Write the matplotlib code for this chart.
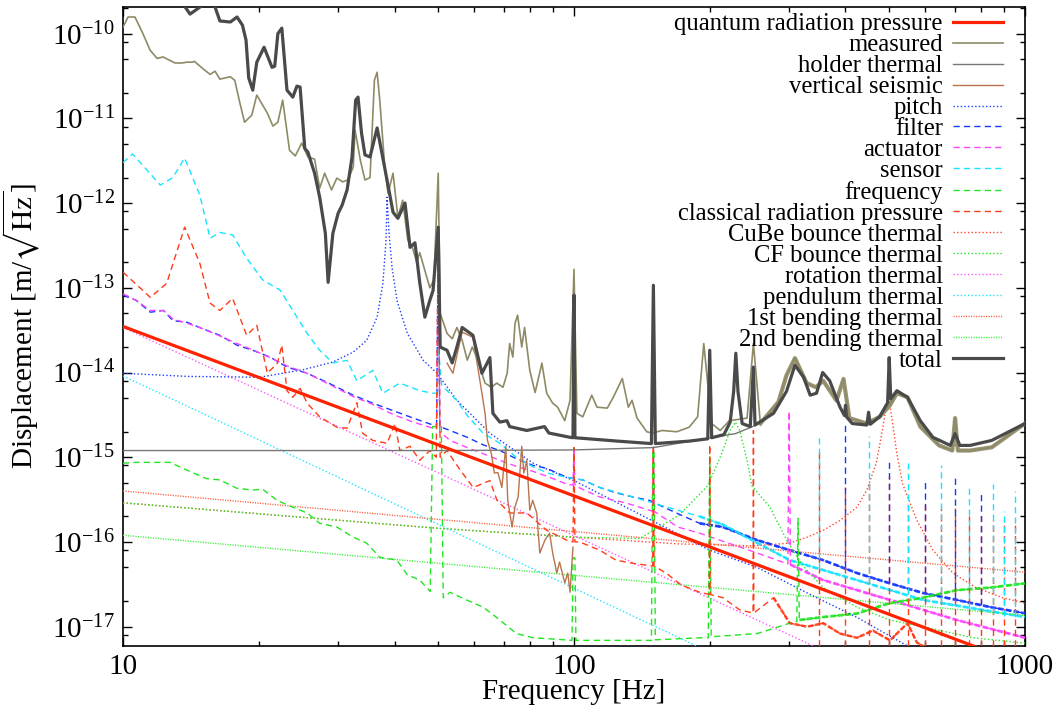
import numpy as np
import matplotlib.pyplot as plt
from matplotlib.ticker import LogLocator, NullFormatter, FixedLocator, FixedFormatter, LogFormatterSciNotation

plt.rcParams['font.family'] = ['Liberation Serif', 'DejaVu Serif']
plt.rcParams['mathtext.fontset'] = 'stix'
plt.rcParams['axes.unicode_minus'] = False

# ---- data: (frequency [Hz], displacement [m/rtHz]) ----
quantum_rp = [(10, 3.5e-14), (1000, 3.5e-18)]

measured = [(10, 1.19e-10), (10.26, 1.57e-10), (10.63, 1.57e-10), (11.07, 1.0e-10), (11.48, 6.4e-11),
            (11.9, 5.1e-11), (12.27, 5.3e-11), (13.04, 4.5e-11), (13.5, 4.5e-11), (13.86, 4.6e-11),
            (14.2, 4.6e-11), (14.4, 4.7e-11), (15.0, 3.9e-11), (15.6, 3.3e-11), (16.0, 3.6e-11),
            (16.4, 2.9e-11), (17.3, 3.1e-11), (17.7, 2.8e-11), (18.1, 1.64e-11), (18.6, 9.0e-12),
            (19.3, 1.09e-11), (19.8, 1.88e-11), (20.9, 1.15e-11), (21.5, 8.1e-12), (22.05, 9.0e-12),
            (22.6, 1.64e-11), (23.4, 4.2e-12), (24.1, 3.6e-12), (24.9, 5.1e-12), (25.7, 3.5e-12),
            (26.6, 3.3e-12), (27.3, 1.5e-12), (28.0, 2.25e-12), (29.0, 1.43e-12), (29.8, 1.97e-12),
            (30.7, 1.78e-12), (31.5, 1.87e-12), (32.4, 2.65e-12), (32.7, 7.3e-12), (33.6, 3.2e-12),
            (34.4, 1.87e-12), (35.3, 2.0e-12), (36.1, 2.83e-11), (36.6, 3.5e-11), (37.1, 1.64e-11),
            (38.1, 2.45e-12), (38.7, 1.3e-12), (39.7, 2.25e-12), (40.7, 6.8e-13), (41.7, 1.08e-12),
            (42.8, 3.67e-13), (43.9, 2.9e-13), (44.8, 2.0e-13), (45.5, 2.6e-13), (46.7, 1.6e-13),
            (47.9, 1.0e-13), (48.9, 1.24e-13), (50.0, 2.25e-12), (50.5, 5.0e-14), (52.3, 2.9e-14),
            (53.7, 2.5e-14), (55.0, 3.4e-14), (56.5, 2.4e-14), (58.0, 1.4e-14), (59.5, 2.0e-14),
            (60.3, 1.7e-14), (61.9, 1.16e-14), (63.5, 7.5e-15), (65.6, 6.7e-15), (67.4, 7.5e-15),
            (69.6, 6.7e-15), (71.1, 9.8e-15), (72.0, 2.2e-14), (73.2, 1.52e-14), (74.0, 3.8e-14),
            (75.0, 4.75e-14), (76.6, 2.0e-14), (77.7, 3.4e-14), (79.8, 1.06e-14), (82.0, 5.8e-15),
            (84.9, 1.29e-14), (87.0, 5.7e-15), (89.7, 4.35e-15), (92.0, 3.9e-15), (95.4, 2.7e-15),
            (98.0, 4.7e-15), (100, 1.65e-13), (101.5, 3.3e-15), (104.6, 3.0e-15), (109.5, 5.4e-15),
            (112.5, 3.9e-15), (118.5, 3.8e-15), (122, 5.0e-15), (128, 8.5e-15), (132, 3.9e-15),
            (134.5, 4.7e-15), (138, 2.9e-15), (145, 2.0e-15), (149, 1.93e-15), (157, 2.07e-15),
            (169, 2.0e-15), (180, 2.26e-15), (188, 3.0e-15), (194, 2.2e-14), (202, 2.5e-15),
            (211, 2.07e-15), (221, 2.7e-15), (242, 2.9e-15), (250, 2.2e-14), (259, 2.5e-15),
            (284, 4.5e-15), (296, 9.3e-15), (309, 1.48e-14), (328, 7.5e-15), (344, 6.7e-15),
            (357, 8.0e-15), (382, 4.66e-15), (396, 8.4e-15), (408, 2.9e-15), (446, 2.5e-15),
            (476, 3.0e-15), (502, 4.1e-15), (520, 5.7e-15), (549, 5.1e-15), (586, 2.3e-15),
            (645, 1.38e-15), (690, 1.2e-15), (700, 2.9e-15), (710, 1.2e-15), (756, 1.2e-15),
            (844, 1.31e-15), (1000, 2.5e-15)]

holder_thermal = [(10, 1.2e-15), (50, 1.2e-15), (100, 1.22e-15), (150, 1.3e-15), (197, 1.67e-15),
                  (228, 1.9e-15), (249, 2.3e-15), (277, 3.3e-15), (296, 6.0e-15), (309, 1.22e-14),
                  (323, 8.8e-15), (334, 5.4e-15), (345, 5.7e-15), (356, 1.0e-14), (369, 8.0e-15),
                  (389, 3.9e-15), (414, 2.5e-15), (446, 2.4e-15), (476, 3.0e-15), (500, 4.4e-15),
                  (520, 6.1e-15), (549, 5.1e-15), (586, 2.7e-15), (625, 1.72e-15), (683, 1.38e-15),
                  (756, 1.38e-15), (844, 1.58e-15), (1000, 2.5e-15)]

vertical_seismic = [(52.3, 1.29e-14), (53.9, 9.8e-15), (56.5, 3.0e-14), (59.7, 2.6e-14), (62.5, 5.7e-15),
                    (63.5, 3.3e-15), (64.3, 1.58e-15), (65.6, 1.1e-15), (66.6, 6.5e-16), (67.8, 6.6e-16),
                    (69.2, 4.4e-16), (70.6, 1.35e-15), (71.3, 3.1e-16), (72.9, 1.5e-16), (74.0, 2.6e-16),
                    (75.2, 3.4e-16), (76.6, 1.35e-15), (77.4, 6.5e-16), (78.6, 9.2e-16), (79.8, 2.37e-16),
                    (81.0, 3.1e-16), (82.7, 2.2e-16), (84.0, 7.4e-17), (86.2, 1.05e-16), (88.3, 1.27e-16),
                    (89.7, 7.4e-17), (91.6, 4.3e-17), (92.9, 5.8e-17), (95.4, 3.3e-17), (96.9, 4.3e-17),
                    (98.0, 2.55e-17), (99.5, 8.7e-17)]

pitch = [(10, 9.8e-15), (13.9, 9.0e-15), (20.1, 8.8e-15), (25.1, 1.08e-14), (29.2, 1.33e-14),
         (32.4, 1.74e-14), (34.7, 2.4e-14), (36.6, 4.5e-14), (37.7, 1.13e-13), (38.3, 3.65e-13),
         (38.5, 1.17e-12), (38.9, 4.4e-13), (39.5, 1.75e-13), (40.5, 7.1e-14), (42.7, 2.9e-14),
         (46.3, 1.4e-14), (49.7, 9.8e-15), (55.0, 4.7e-15), (65.1, 1.92e-15), (81.2, 8.5e-16),
         (101.5, 5.1e-16), (200, 8.0e-17), (255, 5.0e-17), (329, 2.5e-17), (424, 1.29e-17),
         (535, 6.4e-18), (600, 4.5e-18)]

filter_n = [(10, 8.2e-14), (10.7, 7.1e-14), (11.5, 5.15e-14), (12.3, 5.4e-14), (12.9, 4.1e-14),
            (13.9, 3.9e-14), (15.0, 3.3e-14), (16.4, 2.75e-14), (17.9, 2.1e-14), (19.4, 1.83e-14),
            (21.2, 1.52e-14), (23.1, 1.16e-14), (25.6, 9.8e-15), (28.3, 7.7e-15), (32.4, 5.4e-15),
            (35.8, 4.35e-15), (39.7, 3.55e-15), (44.0, 2.9e-15), (48.7, 2.4e-15), (49.6, 2.4e-15),
            (50.0, 4.8e-13), (50.4, 2.3e-15), (53.1, 2.07e-15), (58.0, 1.72e-15), (62.9, 1.4e-15),
            (68.5, 1.2e-15), (74.5, 9.6e-16), (81.2, 8.0e-16), (87.0, 7.4e-16), (96.4, 5.8e-16),
            (104.6, 5.4e-16), (114, 4.4e-16), (124, 3.8e-16), (135, 3.4e-16), (147, 3.1e-16),
            (160, 2.5e-16), (173, 2.07e-16), (190, 1.66e-16), (214, 1.5e-16), (255, 1.05e-16),
            (301, 8.0e-17), (357, 6.1e-17), (424, 4.3e-17), (502, 3.25e-17), (594, 2.5e-17),
            (706, 2.07e-17), (840, 1.7e-17), (1000, 1.44e-17)]

actuator = [(10, 8.5e-14), (10.7, 7.1e-14), (11.5, 5.4e-14), (12.3, 5.4e-14), (12.9, 4.3e-14),
            (13.9, 3.8e-14), (15.0, 3.3e-14), (16.4, 2.7e-14), (17.9, 2.2e-14), (19.4, 1.85e-14),
            (21.2, 1.5e-14), (23.1, 1.2e-14), (25.6, 9.8e-15), (28.3, 7.5e-15), (32.4, 5.2e-15),
            (35.8, 4.2e-15), (39.7, 3.2e-15), (44.0, 2.6e-15), (48.7, 2.2e-15), (49.6, 2.2e-15),
            (50.0, 4.2e-13), (50.4, 2.0e-15), (53.1, 1.58e-15), (58.0, 1.3e-15), (62.9, 1.1e-15),
            (68.5, 9.2e-16), (74.5, 7.8e-16), (81.2, 6.8e-16), (88.3, 5.8e-16), (96.4, 4.8e-16),
            (99.5, 4.7e-16), (100, 1.3e-15), (100.5, 4.6e-16), (114, 3.4e-16), (130, 2.9e-16),
            (147, 2.37e-16), (149.5, 2.3e-16), (150, 1.2e-15), (150.5, 2.3e-16), (170, 1.5e-16),
            (190, 1.27e-16), (255, 7.4e-17), (298, 5.5e-17), (300, 3.5e-15), (302, 5.4e-17),
            (357, 3.55e-17), (502, 2.07e-17), (706, 1.2e-17), (1000, 7.4e-18)]

sensor = [(10, 3.0e-12), (10.5, 3.8e-12), (12.1, 1.63e-12), (12.9, 2.0e-12), (13.7, 3.4e-12),
          (14.8, 1.24e-12), (15.6, 3.85e-13), (16.4, 4.5e-13), (17.5, 4.2e-13), (18.8, 2.24e-13),
          (20.4, 1.24e-13), (22.3, 9.4e-14), (23.8, 5.4e-14), (25.6, 2.9e-14), (27.3, 1.83e-14),
          (29.2, 1.3e-14), (31.4, 1.39e-14), (33.0, 8.0e-15), (35.8, 1.06e-14), (37.7, 5.7e-15),
          (41.1, 7.5e-15), (45.5, 6.1e-15), (48.7, 5.7e-15), (49.6, 5.7e-15), (50.0, 2.0e-14),
          (50.9, 7.1e-15), (55.0, 4.66e-15), (58.0, 3.1e-15), (62.9, 1.92e-15), (68.5, 1.46e-15),
          (74.5, 1.0e-15), (81.2, 7.7e-16), (88.3, 6.4e-16), (96.4, 5.8e-16), (104.6, 5.4e-16),
          (114, 4.4e-16), (135, 3.4e-16), (160, 2.6e-16), (190, 2.0e-16), (214, 1.6e-16),
          (301, 6.1e-17), (424, 3.55e-17), (594, 2.07e-17), (1000, 1.3e-17)]

frequency = [(10, 8.5e-16), (10.7, 8.7e-16), (11.5, 8.7e-16), (12.7, 8.7e-16), (13.9, 7.0e-16),
             (15.3, 5.6e-16), (16.4, 5.4e-16), (17.9, 4.3e-16), (19.4, 4.1e-16), (20.4, 4.2e-16),
             (21.95, 3.1e-16), (23.8, 2.57e-16), (25.6, 2.2e-16), (27.3, 1.66e-16), (29.8, 1.5e-16),
             (32.4, 1.14e-16), (34.7, 9.7e-17), (37.1, 6.6e-17), (40.5, 6.1e-17), (42.7, 4.1e-17),
             (45.5, 3.55e-17), (48.0, 2.6e-17), (48.6, 2.3e-15), (50.8, 2.3e-15), (51.3, 2.2e-17),
             (53.1, 2.55e-17), (58.0, 2.05e-17), (62.9, 1.7e-17), (68.5, 1.2e-17), (74.5, 8.3e-18),
             (81.2, 7.4e-18), (88.3, 7.2e-18), (99.0, 6.9e-18), (99.5, 6.5e-17), (100.5, 6.5e-17),
             (101, 6.9e-18), (114, 6.9e-18), (148.5, 6.9e-18), (149.5, 1.2e-15), (150.5, 1.2e-15),
             (151.5, 7.0e-18), (190, 7.4e-18), (198.5, 7.4e-18), (200, 1.0e-15), (201.5, 7.6e-18),
             (255, 8.3e-18), (301, 1.1e-17), (312, 1.15e-17), (314, 1.9e-16), (316, 1.2e-17),
             (357, 1.3e-17), (424, 1.43e-17), (502, 1.9e-17), (594, 2.2e-17), (706, 2.7e-17),
             (840, 2.9e-17), (1000, 3.25e-17)]

classical_rp = [(10, 1.53e-13), (11.5, 7.7e-14), (12.5, 1.13e-13), (13.7, 5.2e-13), (14.8, 1.95e-13),
                (15.4, 8.6e-14), (15.6, 6.6e-14), (16.4, 5.4e-14), (17.5, 7.5e-14), (18.8, 2.75e-14),
                (19.8, 3.6e-14), (20.9, 9.8e-15), (22.0, 1.29e-14), (22.5, 2.1e-14), (23.1, 6.1e-15),
                (23.8, 5.1e-15), (24.7, 6.5e-15), (25.6, 4.35e-15), (27.3, 3.0e-15), (29.8, 2.26e-15),
                (31.4, 2.2e-15), (33.0, 4.4e-15), (34.0, 1.92e-15), (35.8, 1.58e-15), (38.5, 1.46e-15),
                (40.1, 2.5e-15), (41.1, 1.2e-15), (43.3, 1.35e-15), (45.5, 9.2e-16), (47.9, 1.2e-15),
                (49.5, 1.0e-15), (50.0, 4.5e-13), (50.5, 1.0e-15), (52.3, 1.2e-15), (56.0, 7.0e-16),
                (59.8, 4.4e-16), (65.1, 5.3e-16), (67.5, 3.1e-16), (72.0, 2.2e-16), (78.6, 2.2e-16),
                (87.0, 1.37e-16), (96.4, 1.05e-16), (99.5, 1.0e-16), (100, 1.3e-15), (100.5, 1.0e-16),
                (103, 1.0e-16), (114, 8.0e-17), (124, 6.1e-17), (135, 5.6e-17), (149.5, 5.2e-17),
                (150, 1.4e-15), (150.5, 5.2e-17), (160, 4.3e-17), (173, 3.1e-17), (190, 2.55e-17),
                (199.5, 2.4e-17), (200, 1.4e-15), (200.5, 2.4e-17), (214, 2.2e-17), (233, 1.58e-17),
                (249.5, 1.45e-17), (250, 2.07e-15), (250.5, 1.45e-17), (277, 2.2e-17), (301, 1.1e-17),
                (329, 1.0e-17), (357, 1.1e-17), (389, 8.3e-18), (424, 7.4e-18), (460, 9.0e-18),
                (502, 6.9e-18), (549, 1.1e-17), (576, 6.5e-18), (650, 4.5e-18)]

cube_bounce = [(10, 2.9e-16), (50, 1.45e-16), (100, 1.14e-16), (170, 9.5e-17), (250, 9.0e-17),
               (301, 9.7e-17), (329, 1.14e-16), (357, 1.37e-16), (389, 1.8e-16), (424, 2.57e-16),
               (446, 4.1e-16), (468, 8.5e-16), (483, 2.07e-15), (497, 5.5e-15), (508, 2.7e-15),
               (520, 1.1e-15), (535, 4.9e-16), (576, 1.8e-16), (625, 8.0e-17), (692, 4.3e-17),
               (778, 2.9e-17), (892, 2.2e-17), (1000, 1.9e-17)]

cf_bounce = [(10, 2.9e-16), (50, 1.45e-16), (100, 1.14e-16), (140, 1.1e-16), (171, 2.07e-16),
             (198, 4.6e-16), (211, 1.0e-15), (222, 2.07e-15), (228, 2.6e-15), (233, 2.07e-15),
             (242, 9.2e-16), (248, 4.6e-16), (272, 2.57e-16), (296, 1.06e-16), (323, 5.1e-17),
             (357, 2.9e-17), (424, 1.7e-17), (502, 1.2e-17), (594, 1.0e-17), (767, 7.4e-18),
             (1000, 6.4e-18)]

rotation = [(10, 3.4e-14), (350, 5.5e-18)]
pendulum = [(10, 9.1e-15), (190, 5.7e-18)]
bending1 = [(10, 4.0e-16), (1000, 4.4e-17)]
bending2 = [(10, 1.2e-16), (1000, 1.36e-17)]

total = [(13.7, 2.1e-10), (14.08, 1.7e-10), (14.82, 2.06e-10), (15.4, 2.4e-10), (16.0, 2.06e-10),
         (16.4, 1.41e-10), (17.3, 1.37e-10), (17.9, 1.57e-10), (18.4, 1.26e-10), (18.74, 8.4e-11),
         (19.0, 3.0e-11), (19.4, 2.15e-11), (19.8, 4.6e-11), (20.55, 6.9e-11), (21.4, 4.0e-11),
         (21.7, 4.13e-11), (22.05, 1.0e-10), (22.5, 1.16e-10), (23.1, 2.15e-11), (23.8, 1.78e-11),
         (24.3, 2.4e-11), (24.7, 2.34e-11), (25.3, 4.4e-12), (25.7, 4.0e-12), (26.6, 2.25e-12),
         (27.3, 1.17e-12), (28.1, 4.4e-13), (28.5, 1.16e-13), (29.2, 4.4e-13), (30.0, 7.6e-13),
         (30.6, 9.4e-13), (31.4, 1.43e-12), (32.2, 3.5e-12), (32.8, 1.64e-11), (33.2, 1.78e-11),
         (33.8, 6.7e-12), (34.4, 3.7e-12), (35.3, 3.5e-12), (36.6, 7.7e-12), (38.5, 1.87e-12),
         (39.7, 7.8e-13), (40.7, 6.6e-13), (42.2, 1.0e-12), (43.3, 3.0e-13), (44.4, 3.4e-13),
         (45.5, 1.15e-13), (46.7, 4.5e-14), (47.9, 7.1e-14), (48.7, 9.3e-14), (50.0, 5.2e-13),
         (50.5, 2.0e-14), (52.3, 1.83e-14), (53.7, 1.3e-14), (55.0, 2.0e-14), (56.5, 3.4e-14),
         (59.7, 2.75e-14), (62.5, 9.8e-15), (65.1, 1.5e-14), (66.1, 3.3e-15), (68.5, 2.6e-15),
         (71, 2.7e-15), (72, 2.3e-15), (78.6, 2.07e-15), (86, 2.3e-15), (88, 1.93e-15),
         (98, 1.72e-15), (99.5, 1.7e-15), (100, 8.2e-14), (100.5, 1.7e-15), (125, 1.55e-15),
         (148.5, 1.45e-15), (150, 1.07e-13), (151.5, 1.45e-15), (180, 1.55e-15), (198, 1.65e-15),
         (200, 1.83e-14), (202, 1.7e-15), (215, 1.85e-15), (222, 2.6e-15), (226, 6.0e-15),
         (228.5, 1.69e-14), (231, 6.0e-15), (236, 2.5e-15), (246, 2.3e-15), (250, 1.16e-14),
         (252, 2.4e-15), (277, 3.3e-15), (296, 6.0e-15), (309, 1.22e-14), (323, 8.8e-15),
         (334, 5.4e-15), (345, 5.7e-15), (356, 1.0e-14), (369, 8.0e-15), (389, 3.9e-15),
         (398, 3.1e-15), (400, 4.1e-15), (402, 3.0e-15), (414, 2.5e-15), (446, 2.4e-15),
         (450, 3.4e-15), (454, 2.45e-15), (476, 3.0e-15), (496, 4.4e-15), (500, 1.5e-14),
         (504, 4.9e-15), (520, 6.1e-15), (549, 5.1e-15), (586, 2.7e-15), (625, 1.72e-15),
         (683, 1.38e-15), (700, 1.9e-15), (717, 1.38e-15), (756, 1.38e-15), (844, 1.58e-15),
         (1000, 2.5e-15)]

# narrow lines above 300 Hz: frequency, bottom, top
filter_spk_f = [400, 500, 600, 700, 800]
filter_spk_lo = [5.0e-17, 3.3e-17, 2.5e-17, 2.1e-17, 1.8e-17]
filter_spk_hi = [2.6e-15, 8.7e-16, 5.6e-16, 6.4e-16, 3.9e-16]
sensor_spk_f = [350, 450, 550, 650, 750, 850, 900, 950]
sensor_spk_lo = [4.8e-17, 3.3e-17, 2.4e-17, 1.9e-17, 1.6e-17, 1.4e-17, 1.35e-17, 1.3e-17]
sensor_spk_hi = [1.67e-15, 1.8e-15, 8.6e-16, 8.1e-16, 4.9e-16, 4.9e-16, 2.3e-16, 4.0e-16]
crp_spk_f = [350, 400, 450, 500, 550, 600, 650, 700, 750, 800, 850, 900, 950]
crp_spk_lo = [6e-18] * 13
crp_spk_hi = [1.2e-15, 4.5e-16, 5e-16, 6e-16, 3e-16, 3e-16, 2.5e-16, 2.5e-16, 2e-16, 2e-16,
              1.8e-16, 1.8e-16, 1.8e-16]

y_major = [1e-17, 1e-16, 1e-15, 1e-14, 1e-13, 1e-12, 1e-11, 1e-10]

DOT = (0, (1.0, 1.6))
FINEDOT = (0, (0.8, 1.0))
DASH = (0, (4.5, 3.0))
NOISE = (0, (2.0, 0.8))

fig = plt.figure(figsize=(10.64, 7.16), dpi=100)
ax = fig.add_axes([0.1156, 0.0982, 0.8477, 0.892])


def xy(pts):
    f, v = zip(*pts)
    return np.array(f), np.array(v)


def band(pts, fmin, color, width, z=3, ls=NOISE):
    # the noisy high-frequency part of a spectrum shows up as a thick band
    f, v = xy(pts)
    keep = f >= fmin
    ax.plot(f[keep], v[keep], color=color, lw=width, ls=ls, alpha=0.9, zorder=z)


lw = 1.0
h = {}
h['qrp'], = ax.plot(*xy(quantum_rp), color='#ff2200', lw=2.3, zorder=9, label='quantum radiation pressure')
h['meas'], = ax.plot(*xy(measured), color='#8f8a66', lw=1.2, zorder=7, label='measured')
h['hold'], = ax.plot(*xy(holder_thermal), color='#777777', lw=lw, zorder=6, label='holder thermal')
h['vs'], = ax.plot(*xy(vertical_seismic), color='#b8744c', lw=lw, zorder=6, label='vertical seismic')
h['pitch'], = ax.plot(*xy(pitch), color='#1a3cff', lw=lw, ls=DOT, zorder=5, label='pitch')
h['filt'], = ax.plot(*xy(filter_n), color='#1438ff', lw=lw, ls=DASH, zorder=5, label='filter')
h['act'], = ax.plot(*xy(actuator), color='#ff44ff', lw=lw, ls=DASH, zorder=5, label='actuator')
h['sens'], = ax.plot(*xy(sensor), color='#18e4ff', lw=lw, ls=DASH, zorder=5, label='sensor')
h['freq'], = ax.plot(*xy(frequency), color='#22e622', lw=lw, ls=DASH, zorder=5, label='frequency')
h['crp'], = ax.plot(*xy(classical_rp), color='#ff3c18', lw=lw, ls=DASH, zorder=5, label='classical radiation pressure')
h['cube'], = ax.plot(*xy(cube_bounce), color='#ff4a2a', lw=lw, ls=DOT, zorder=4, label='CuBe bounce thermal')
h['cf'], = ax.plot(*xy(cf_bounce), color='#22e622', lw=lw, ls=DOT, zorder=4, label='CF bounce thermal')
h['rot'], = ax.plot(*xy(rotation), color='#ff55ff', lw=lw, ls=DOT, zorder=4, label='rotation thermal')
h['pend'], = ax.plot(*xy(pendulum), color='#22e4ff', lw=lw, ls=DOT, zorder=4, label='pendulum thermal')
h['b1'], = ax.plot(*xy(bending1), color='#ff5a3a', lw=lw, ls=FINEDOT, zorder=4, label='1st bending thermal')
h['b2'], = ax.plot(*xy(bending2), color='#33ee33', lw=lw, ls=FINEDOT, zorder=4, label='2nd bending thermal')
h['tot'], = ax.plot(*xy(total), color='#4a4a4a', lw=2.3, zorder=8, label='total')

band(measured, 255, '#8f8a66', 3.0, z=6.5, ls='-')
band(filter_n, 190, '#1438ff', 2.0)
band(sensor, 190, '#18e4ff', 2.0)
band(actuator, 302, '#ff44ff', 2.0)
band(frequency, 316, '#22e622', 2.0)
band(classical_rp, 251, '#ff3c18', 1.8)

ax.vlines(crp_spk_f, crp_spk_lo, crp_spk_hi, colors='#ff3c18', linestyles=DASH, lw=lw, zorder=5)
ax.vlines(sensor_spk_f, sensor_spk_lo, sensor_spk_hi, colors='#18e4ff', linestyles=DASH, lw=lw, zorder=5)
ax.vlines(filter_spk_f, filter_spk_lo, filter_spk_hi, colors='#1438ff', linestyles=DASH, lw=lw, zorder=5)

ax.set_xscale('log')
ax.set_yscale('log')
ax.set_xlim(10, 1000)
ax.set_ylim(5.97e-18, 2.06e-10)

ax.xaxis.set_major_locator(FixedLocator([10, 100, 1000]))
ax.xaxis.set_major_formatter(FixedFormatter(['10', '100', '1000']))
ax.xaxis.set_minor_locator(LogLocator(base=10, subs=np.arange(2, 10)))
ax.xaxis.set_minor_formatter(NullFormatter())
ax.yaxis.set_major_locator(FixedLocator(y_major))
ax.yaxis.set_major_formatter(LogFormatterSciNotation())
ax.yaxis.set_minor_locator(LogLocator(base=10, subs=[2, 5, 8], numticks=20))
ax.yaxis.set_minor_formatter(NullFormatter())

ax.tick_params(which='both', direction='in', top=True, right=True, labelsize=21, width=1.0)
ax.tick_params(which='major', length=6.5)
ax.tick_params(which='minor', length=3.5)
ax.tick_params(axis='x', pad=6)
ax.tick_params(axis='y', pad=6)
for s in ax.spines.values():
    s.set_linewidth(1.2)

ax.set_xlabel('Frequency [Hz]', fontsize=21)
ax.set_ylabel('Displacement [m/$\\sqrt{\\rm Hz}$]', fontsize=21)
ax.xaxis.set_label_coords(0.5, -0.052)
ax.yaxis.set_label_coords(-0.09, 0.5)

order = ['qrp', 'meas', 'hold', 'vs', 'pitch', 'filt', 'act', 'sens', 'freq', 'crp',
         'cube', 'cf', 'rot', 'pend', 'b1', 'b2', 'tot']
leg = ax.legend([h[k] for k in order], [h[k].get_label() for k in order],
                loc='upper right', bbox_to_anchor=(1003 / 1064, 1 - 13 / 716),
                bbox_transform=fig.transFigure, frameon=False, markerfirst=False,
                fontsize=17.7, handlelength=2.05, handletextpad=0.4, labelspacing=-0.05,
                borderpad=0, borderaxespad=0)
leg.set_zorder(20)

plt.savefig('out.png', dpi=100)
